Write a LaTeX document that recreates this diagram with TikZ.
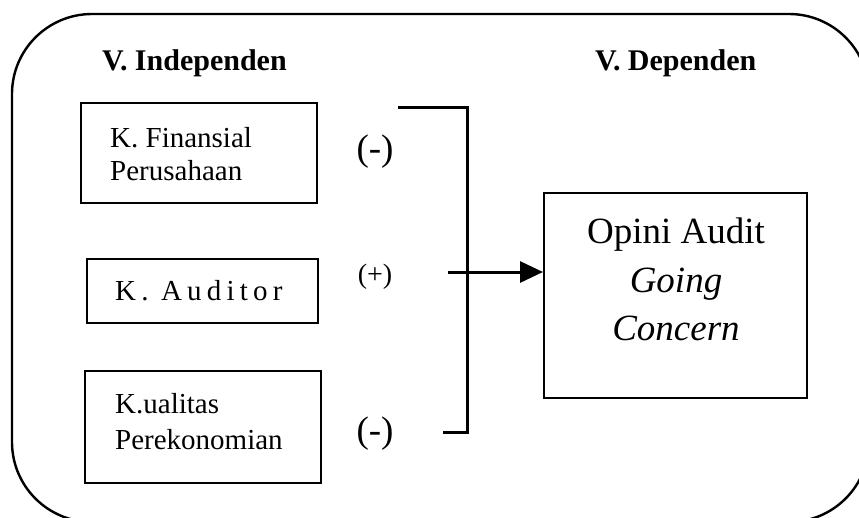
\documentclass[tikz,border=0pt]{standalone}
\usepackage{fontspec}
\setmainfont{Liberation Serif}
\usetikzlibrary{arrows.meta}
\tikzset{
  box/.style={draw, line width=2pt, minimum width=#1, inner sep=0pt},
  lbl/.style={inner sep=0pt, font=\fontsize{29pt}{33pt}\selectfont},
  head/.style={inner sep=0pt, font=\fontsize{30pt}{33pt}\selectfont\bfseries},
  sgn/.style={inner sep=0pt, font=\fontsize{37pt}{40pt}\selectfont},
  big/.style={inner sep=0pt, font=\fontsize{37pt}{44pt}\selectfont},
  brk/.style={line width=3pt},
}
\begin{document}
\begin{tikzpicture}[x=1pt,y=-1pt]
\useasboundingbox (0,0) rectangle (859,517);
\begin{scope}
\clip (0,0) rectangle (859,517);
\draw[line width=2.4pt, rounded corners=80pt] (12,14) rectangle (869,522);
\end{scope}
% headers
\node[head, anchor=base west] (hind) at (102,70) {V. Independen};
\node[head, anchor=base west] (hdep) at (595,70) {V. Dependen};
% independent boxes
\node[box=236pt, minimum height=100pt] (fin) at (199,153) {};
\node[lbl, anchor=base west] (fin1) at (110,147) {K. Finansial};
\node[lbl, anchor=base west] (fin2) at (110,180) {Perusahaan};
\node[box=231pt, minimum height=64pt] (aud) at (202.5,291) {};
\node[lbl, anchor=base west] (aud1) at (115,300) {\addfontfeature{LetterSpace=18}K. Auditor};
\node[box=236pt, minimum height=112pt] (kua) at (203,427) {};
\node[lbl, anchor=base west] (kua1) at (115,413) {K.ualitas};
\node[lbl, anchor=base west] (kua2) at (115,449) {Perekonomian};
% signs
\node[sgn, anchor=base] (s1) at (375,160) {(-)};
\node[inner sep=0pt, font=\fontsize{28pt}{30pt}\selectfont, anchor=base] (s2) at (375,283) {(+)};
\node[sgn, anchor=base] (s3) at (375,442) {(-)};
% dependent box
\node[box=263pt, minimum height=205pt] (dep) at (675.5,295.5) {};
\node[big, anchor=base] (d1) at (676,243) {Opini Audit};
\node[big, anchor=base] (d2) at (676,292) {\itshape Going};
\node[big, anchor=base] (d3) at (676,340) {\itshape Concern};
% bracket
\coordinate (bt) at (398,107);
\coordinate (bc) at (467,107);
\coordinate (bd) at (467,432);
\coordinate (bb) at (443,432);
\draw[brk] (bt) -- (bc) -- (bd) -- (bb);
\coordinate (ain) at (448,272);
\draw[brk, -{Triangle[length=23pt, width=21pt]}] (ain) -- (dep.west |- ain);
\end{tikzpicture}
\end{document}
